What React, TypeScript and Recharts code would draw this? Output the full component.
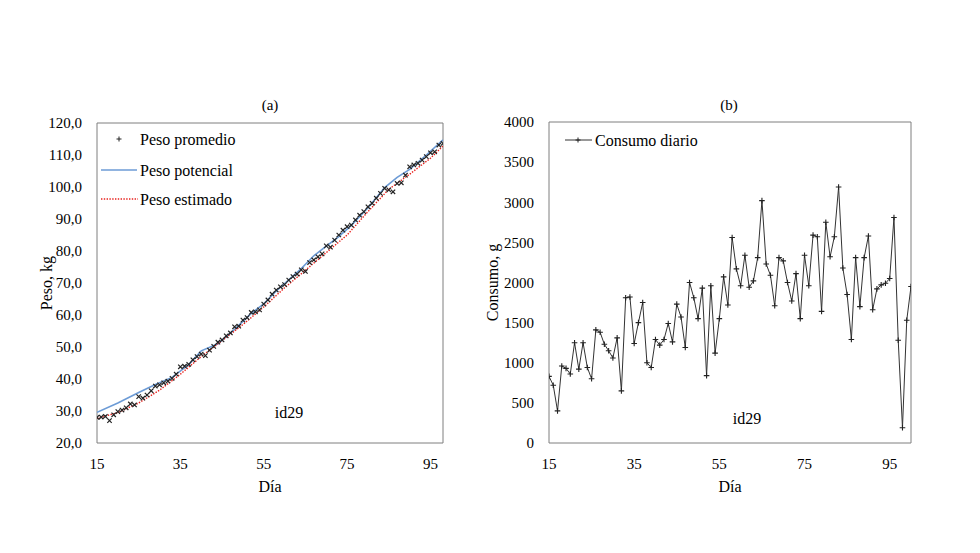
import React from 'react';
import {
  ComposedChart, Line, XAxis, YAxis, ReferenceArea, Label,
} from 'recharts';

const FONT = '"Liberation Serif", "Times New Roman", serif';

// (a) weight, kg
const promedioStart = 15;
const pesoPromedio = [
  28.0, 28.1, 28.3, 27.0, 28.8, 29.8, 30.3, 31.0, 32.2, 31.9,
  34.5, 34.0, 35.0, 36.3, 37.8, 38.2, 38.8, 39.3, 40.2, 41.5,
  43.8, 44.0, 44.6, 46.0, 47.0, 47.8, 47.3, 49.0, 50.2, 51.5,
  52.2, 53.5, 54.4, 56.3, 56.5, 58.4, 59.2, 60.8, 61.0, 61.6,
  63.4, 64.7, 66.5, 67.8, 68.8, 69.5, 70.9, 72.0, 72.8, 74.1,
  73.6, 76.4, 77.2, 78.2, 79.1, 81.6, 81.2, 83.4, 85.0, 86.5,
  87.6, 88.1, 89.7, 91.2, 92.3, 93.8, 94.9, 96.5, 98.0, 99.6,
  99.1, 98.5, 101.1, 101.3, 103.7, 106.3, 106.9, 107.4, 108.4, 109.5,
  110.7, 111.0, 113.1, 113.6,
];

const potencialDays = [15, 20, 25, 29, 33, 37, 40, 44, 48, 52, 55, 58, 61, 64, 67, 70, 73, 76, 80, 84, 87, 90, 94, 98];
const pesoPotencial = [29.6, 32.5, 35.8, 38.3, 40.5, 44.5, 48.8, 51, 55.5, 60.5, 63.5, 67.5, 71, 74.5, 78.5, 81.5, 84.5, 88, 93.5, 99.8, 103, 105.5, 110, 114.7];

const estimadoDays = [15, 20, 25, 30, 35, 40, 45, 50, 55, 60, 65, 70, 75, 80, 85, 90, 95, 98];
const pesoEstimado = [27.7, 29.5, 32.5, 36.5, 41.5, 47, 52, 57, 62.5, 68.5, 74, 79.5, 85, 92.3, 99.3, 104, 109, 112.8];

// (b) daily intake, g
const consumoStart = 15;
const consumoDiario = [
  830, 720, 400, 960, 930, 860, 1250, 920, 1250, 940,
  800, 1410, 1380, 1230, 1150, 1060, 1310, 650, 1810, 1820,
  1240, 1500, 1750, 1000, 940, 1290, 1220, 1290, 1490, 1260,
  1730, 1570, 1190, 2000, 1810, 1550, 1930, 840, 1960, 1120,
  1550, 2070, 1720, 2560, 2170, 1960, 2340, 1940, 2020, 2310,
  3020, 2230, 2090, 1710, 2310, 2270, 2000, 1770, 2110, 1550,
  2340, 1960, 2590, 2570, 1640, 2750, 2320, 2570, 3190, 2180,
  1850, 1290, 2310, 1700, 2310, 2580, 1660, 1920, 1970, 1990,
  2050, 2810, 1280, 190, 1530, 1950,
];

const dayTicks = [15, 35, 55, 75, 95];
const pesoTicks = [20, 30, 40, 50, 60, 70, 80, 90, 100, 110, 120];
const consumoTicks = [0, 500, 1000, 1500, 2000, 2500, 3000, 3500, 4000];

const promedioData = pesoPromedio.map((w, i) => ({ day: promedioStart + i, w }));
const potencialData = potencialDays.map((day, i) => ({ day, w: pesoPotencial[i] }));
const estimadoData = estimadoDays.map((day, i) => ({ day, w: pesoEstimado[i] }));
const consumoData = consumoDiario.map((c, i) => ({ day: consumoStart + i, c }));

const tickStyle = { fontSize: 15, fill: '#000', fontFamily: FONT };
const labelStyle = { fontSize: 16, fill: '#000', fontFamily: FONT, textAnchor: 'middle' as const };

const XMark = (props: any) => {
  const { cx, cy, index } = props;
  if (cx == null || cy == null) return null;
  const s = 2.2;
  return (
    <path key={`x${index}`} d={`M${cx - s},${cy - s}L${cx + s},${cy + s}M${cx - s},${cy + s}L${cx + s},${cy - s}`}
      stroke="#222" strokeWidth={1.2} fill="none" />
  );
};

const PlusMark = (props: any) => {
  const { cx, cy, index } = props;
  if (cx == null || cy == null) return null;
  const s = 2.8;
  return (
    <path key={`p${index}`} d={`M${cx - s},${cy}L${cx + s},${cy}M${cx},${cy - s}L${cx},${cy + s}`}
      stroke="#222" strokeWidth={1.1} fill="none" />
  );
};

const LegendA = () => (
  <svg width={180} height={90} style={{ position: 'absolute', left: 95, top: 125 }}>
    <path d="M21.5,14L26.5,14M24,11.5L24,16.5" stroke="#222" strokeWidth={1} />
    <text x={45} y={14} dy="0.35em" fontSize={16} fontFamily={FONT}>Peso promedio</text>
    <line x1={6} y1={45} x2={42} y2={45} stroke="#6c9bd6" strokeWidth={1.6} />
    <text x={45} y={45} dy="0.35em" fontSize={16} fontFamily={FONT}>Peso potencial</text>
    <line x1={6} y1={74} x2={43} y2={74} stroke="#e8201c" strokeWidth={1.4} strokeDasharray="1.4 1.4" />
    <text x={45} y={74} dy="0.35em" fontSize={16} fontFamily={FONT}>Peso estimado</text>
  </svg>
);

const LegendB = () => (
  <svg width={160} height={30} style={{ position: 'absolute', left: 560, top: 125 }}>
    <line x1={5} y1={15} x2={32} y2={15} stroke="#333" strokeWidth={1} />
    <path d="M15.5,15L20.5,15M18,12.5L18,17.5" stroke="#222" strokeWidth={1} />
    <text x={35} y={15} dy="0.35em" fontSize={16} fontFamily={FONT}>Consumo diario</text>
  </svg>
);

const textBox = (text: string, cx: number, cy: number, size: number) => (
  <div style={{
    position: 'absolute', left: cx - 40, top: cy - size * 0.6, width: 80, textAlign: 'center',
    fontFamily: FONT, fontSize: size, lineHeight: `${size * 1.2}px`, color: '#000',
  }}>{text}</div>
);

export default function App() {
  return (
    <div style={{ position: 'absolute', left: 0, top: 0, width: 980, height: 553, background: '#fff', overflow: 'hidden' }}>
      <div style={{ position: 'absolute', left: 0, top: 0 }}>
        <ComposedChart width={470} height={553} margin={{ top: 123, right: 27, bottom: 55, left: 37 }}>
          <XAxis dataKey="day" type="number" domain={[15, 98]} ticks={dayTicks} allowDataOverflow
            axisLine={false} tickLine={false} tickSize={0} tickMargin={15} height={55} tick={tickStyle}>
            <Label value="Día" position="insideBottom" offset={6} style={labelStyle} />
          </XAxis>
          <YAxis type="number" domain={[20, 120]} ticks={pesoTicks} allowDataOverflow width={60}
            axisLine={false} tickLine={false} tickSize={0} tickMargin={15} tick={tickStyle}
            tickFormatter={(v: number) => v.toFixed(1).replace('.', ',')}>
            <Label value="Peso, kg" angle={-90} position="insideLeft" offset={9} style={labelStyle} />
          </YAxis>
          <ReferenceArea x1={15} x2={98} y1={20} y2={120} fill="none" stroke="#7f7f7f" strokeWidth={1} fillOpacity={0} />
          <Line data={potencialData} dataKey="w" type="linear" stroke="#6c9bd6" strokeWidth={1.6} dot={false} isAnimationActive={false} />
          <Line data={estimadoData} dataKey="w" type="linear" stroke="#e8201c" strokeWidth={1.4} strokeDasharray="1.4 1.4" dot={false} isAnimationActive={false} />
          <Line data={promedioData} dataKey="w" type="linear" stroke="none" dot={XMark} activeDot={false} isAnimationActive={false} />
        </ComposedChart>
      </div>
      <div style={{ position: 'absolute', left: 470, top: 0 }}>
        <ComposedChart width={510} height={553} margin={{ top: 122, right: 69, bottom: 55, left: 19 }}>
          <XAxis dataKey="day" type="number" domain={[15, 100]} ticks={dayTicks} allowDataOverflow
            axisLine={false} tickLine={false} tickSize={0} tickMargin={15} height={55} tick={tickStyle}>
            <Label value="Día" position="insideBottom" offset={6} style={labelStyle} />
          </XAxis>
          <YAxis type="number" domain={[0, 4000]} ticks={consumoTicks} allowDataOverflow width={60}
            axisLine={false} tickLine={false} tickSize={0} tickMargin={15} tick={tickStyle}>
            <Label value="Consumo, g" angle={-90} position="insideLeft" offset={3} style={labelStyle} />
          </YAxis>
          <ReferenceArea x1={15} x2={100} y1={0} y2={4000} fill="none" stroke="#7f7f7f" strokeWidth={1} fillOpacity={0} />
          <Line data={consumoData} dataKey="c" type="linear" stroke="#333" strokeWidth={1} dot={PlusMark} activeDot={false} isAnimationActive={false} />
        </ComposedChart>
      </div>
      <LegendA />
      <LegendB />
      {textBox('(a)', 270, 105, 15)}
      {textBox('(b)', 729, 105, 15)}
      {textBox('id29', 289, 413, 16)}
      {textBox('id29', 747, 419, 16)}
    </div>
  );
}
